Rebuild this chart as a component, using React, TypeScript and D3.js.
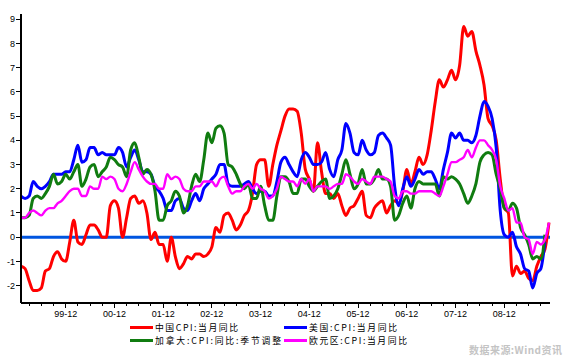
import React from "react";
import * as d3 from "d3";

// Monthly YoY CPI, Jan 1999 onward
const START_YEAR = 1999;
const china = [
  -1.2, -1.3, -1.8, -2.2, -2.2, -2.1, -1.4, -1.3, -0.8, -0.6, -0.9, -1.0,
  -0.2, 0.7, -0.2, -0.3, 0.1, 0.5, 0.5, 0.3, 0.0, 0.0, 1.3, 1.5,
  1.2, 0.0, 0.8, 1.6, 1.7, 1.4, 1.5, 1.0, -0.1, 0.2, -0.3, -0.3,
  -1.0, 0.0, -0.8, -1.3, -1.1, -0.8, -0.9, -0.7, -0.7, -0.8, -0.7, -0.4,
  0.4, 0.2, 0.9, 1.0, 0.7, 0.3, 0.5, 0.9, 1.1, 1.8, 3.0, 3.2,
  3.2, 2.1, 3.0, 3.8, 4.4, 5.0, 5.3, 5.3, 5.2, 4.3, 2.8, 2.4,
  1.9, 3.9, 2.7, 1.8, 1.8, 1.6, 1.8, 1.3, 0.9, 1.2, 1.3, 1.6,
  1.9, 0.9, 0.8, 1.2, 1.4, 1.5, 1.0, 1.3, 1.5, 1.4, 1.9, 2.8,
  2.2, 2.7, 3.3, 3.0, 3.4, 4.4, 5.6, 6.5, 6.2, 6.5, 6.9, 6.5,
  7.1, 8.7, 8.3, 8.5, 7.7, 7.1, 6.3, 4.9, 4.6, 4.0, 2.4, 1.2,
  1.0, -1.6, -1.2, -1.5, -1.4, -1.7, -1.8, -1.2, -0.8, -0.5, 0.6,
];
const usa = [
  1.7, 1.6, 1.7, 2.3, 2.1, 2.0, 2.1, 2.3, 2.6, 2.6, 2.6, 2.7,
  2.7, 3.2, 3.8, 3.1, 3.2, 3.7, 3.7, 3.4, 3.5, 3.4, 3.4, 3.4,
  3.7, 3.5, 2.9, 3.3, 3.6, 3.2, 2.7, 2.7, 2.6, 2.1, 1.9, 1.6,
  1.1, 1.1, 1.5, 1.6, 1.2, 1.1, 1.5, 1.8, 1.5, 2.0, 2.2, 2.4,
  2.6, 3.0, 3.0, 2.2, 2.1, 2.1, 2.1, 2.2, 2.3, 2.0, 1.8, 1.9,
  1.9, 1.7, 1.7, 2.3, 3.1, 3.3, 3.0, 2.7, 2.5, 3.2, 3.5, 3.3,
  3.0, 3.0, 3.1, 3.5, 2.8, 2.5, 3.2, 3.6, 4.7, 4.3, 3.5, 3.4,
  4.0, 3.6, 3.4, 3.5, 4.2, 4.3, 4.1, 3.8, 2.1, 1.3, 2.0, 2.5,
  2.1, 2.4, 2.8, 2.6, 2.7, 2.7, 2.4, 2.0, 2.8, 3.5, 4.3, 4.1,
  4.3, 4.0, 4.0, 3.9, 4.2, 5.0, 5.6, 5.4, 4.9, 3.7, 1.1, 0.1,
  0.0, 0.2, -0.4, -0.7, -1.3, -1.4, -2.1, -1.5, -1.3, -0.2,
];
const canada = [
  0.8, 0.8, 0.9, 1.6, 1.7, 1.6, 1.8, 2.1, 2.6, 2.2, 2.3, 2.6,
  2.4, 2.7, 3.0, 2.1, 2.4, 2.9, 3.0, 2.5, 2.7, 2.9, 3.3, 3.2,
  3.0, 2.9, 2.5, 3.6, 3.9, 3.3, 2.6, 2.8, 2.6, 1.9, 0.7, 0.7,
  1.3, 1.5, 1.9, 1.7, 1.0, 1.3, 2.1, 2.6, 2.3, 3.2, 4.3, 3.9,
  4.5, 4.6, 4.3, 3.0, 2.9, 2.6, 2.2, 2.0, 2.2, 1.6, 1.6, 2.1,
  1.3, 0.7, 0.7, 1.7, 2.5, 2.5, 2.3, 1.8, 1.8, 2.4, 2.4, 2.1,
  1.9, 2.1, 2.3, 2.4, 1.6, 1.7, 2.0, 2.6, 3.2, 2.6, 2.0, 2.2,
  2.8, 2.2, 2.2, 2.4, 2.8, 2.4, 2.4, 2.1, 0.7, 0.9, 1.4, 1.7,
  1.2, 2.0, 2.3, 2.2, 2.2, 2.2, 2.2, 1.7, 2.5, 2.4, 2.5, 2.4,
  2.2, 1.8, 1.4, 1.7, 2.2, 3.1, 3.4, 3.5, 3.4, 2.6, 2.0, 1.2,
  1.1, 1.4, 1.2, 0.4, 0.1, -0.3, -0.9, -0.8, -0.9, 0.1,
];
const euro = [
  0.8, 0.8, 1.0, 1.1, 1.0, 0.9, 1.1, 1.2, 1.2, 1.4, 1.5, 1.7,
  1.9, 2.0, 2.0, 1.7, 1.7, 2.1, 2.0, 2.0, 2.5, 2.4, 2.5, 2.4,
  2.0, 1.9, 2.2, 2.7, 3.1, 2.8, 2.5, 2.3, 2.2, 2.2, 2.0, 2.0,
  2.6, 2.4, 2.5, 2.4, 2.0, 1.9, 1.9, 2.1, 2.1, 2.3, 2.3, 2.3,
  2.1, 2.4, 2.5, 2.1, 1.8, 1.9, 1.9, 2.1, 2.2, 2.0, 2.2, 2.0,
  1.9, 1.6, 1.7, 2.0, 2.5, 2.4, 2.3, 2.3, 2.1, 2.4, 2.2, 2.4,
  1.9, 2.1, 2.1, 2.1, 2.0, 2.1, 2.2, 2.2, 2.6, 2.5, 2.3, 2.2,
  2.4, 2.3, 2.2, 2.5, 2.5, 2.5, 2.4, 2.3, 1.7, 1.6, 1.9, 1.9,
  1.8, 1.8, 1.9, 1.9, 1.9, 1.9, 1.8, 1.7, 2.1, 2.6, 3.1, 3.1,
  3.2, 3.3, 3.6, 3.3, 3.7, 4.0, 4.0, 3.8, 3.6, 3.2, 2.1, 1.6,
  1.1, 1.2, 0.6, 0.6, 0.0, -0.1, -0.7, -0.2, -0.3, -0.1, 0.6,
];

const seriesNames = [
  "中国CPI:当月同比",
  "美国:CPI:当月同比",
  "加拿大:CPI:同比:季节调整",
  "欧元区:CPI:当月同比",
];
const seriesColors = ["#ff0000", "#0000ff", "#107c10", "#ff00ff"];
const seriesWidths = [3, 3, 3, 2.4];
const seriesData = [china, usa, canada, euro];
const yTicks = [-2, -1, 0, 1, 2, 3, 4, 5, 6, 7, 8, 9];
const watermark = "数据来源:Wind资讯";

const W = 570;
const H = 357;
const LEFT = 21;
const RIGHT = 550;
const TOP = 14;
const BOTTOM = 303;

export default function App() {
  const x = d3.scaleLinear().domain([0, 130.25]).range([LEFT, RIGHT]);
  const y = d3.scaleLinear().domain([-2.72, 9.22]).range([BOTTOM, TOP]);
  const line = d3
    .line<number>()
    .x((_, i) => x(i))
    .y((d) => y(d))
    .curve(d3.curveMonotoneX);

  const xTickIdx = d3.range(2, 131, 3);
  const label = (i: number) => {
    const yr = START_YEAR + Math.floor(i / 12);
    const m = (i % 12) + 1;
    return `${String(yr % 100).padStart(2, "0")}-${String(m).padStart(2, "0")}`;
  };
  const tickFont = "'Liberation Sans', Arial, sans-serif";
  const cjkFont = "'Noto Sans CJK SC', sans-serif";

  const legendPos = [
    { x: 130, y: 327.5, w: 83 },
    { x: 284, y: 327.5, w: 88 },
    { x: 130, y: 340.5, w: 126 },
    { x: 284, y: 340.5, w: 98 },
  ];

  return (
    <svg
      width={W}
      height={H}
      style={{ position: "absolute", left: 0, top: 0, background: "#fff" }}
    >
      <rect x={0} y={0} width={W} height={H} fill="#fff" />
      {/* zero line */}
      <line
        x1={LEFT}
        x2={RIGHT}
        y1={y(0)}
        y2={y(0)}
        stroke="#0055e0"
        strokeWidth={3}
      />
      {seriesData.map((d, k) => (
        <path
          key={k}
          d={line(d) || ""}
          fill="none"
          stroke={seriesColors[k]}
          strokeWidth={seriesWidths[k]}
          strokeLinejoin="round"
        />
      ))}
      {/* axes */}
      <line x1={LEFT} x2={LEFT} y1={TOP} y2={BOTTOM} stroke="#000" strokeWidth={1.5} shapeRendering="crispEdges" />
      <line x1={LEFT} x2={RIGHT} y1={BOTTOM} y2={BOTTOM} stroke="#000" strokeWidth={1.5} shapeRendering="crispEdges" />
      {yTicks.map((t) => (
        <g key={t}>
          <line x1={LEFT - 5} x2={LEFT} y1={y(t)} y2={y(t)} stroke="#000" strokeWidth={1} shapeRendering="crispEdges" />
          <text
            x={LEFT - 6}
            y={y(t)}
            dy="0.35em"
            textAnchor="end"
            fontFamily={tickFont}
            fontSize={9}
            fill="#000"
          >
            {t}
          </text>
        </g>
      ))}
      {xTickIdx.map((i) => {
        const major = i % 12 === 11;
        return (
          <g key={i}>
            <line
              x1={x(i)}
              x2={x(i)}
              y1={BOTTOM}
              y2={BOTTOM + (major ? 5 : 3)}
              stroke="#000"
              strokeWidth={1}
              shapeRendering="crispEdges"
            />
            {major && (
              <text
                x={x(i)}
                y={317}
                textAnchor="middle"
                fontFamily={tickFont}
                fontSize={9}
                fill="#000"
              >
                {label(i)}
              </text>
            )}
          </g>
        );
      })}
      {/* legend */}
      {seriesNames.map((n, k) => (
        <g key={n}>
          <line
            x1={legendPos[k].x}
            x2={legendPos[k].x + 23}
            y1={legendPos[k].y}
            y2={legendPos[k].y}
            stroke={seriesColors[k]}
            strokeWidth={3}
          />
          <text
            x={legendPos[k].x + 25}
            y={legendPos[k].y}
            dy="0.36em"
            fontFamily={cjkFont}
            fontSize={8.8}
            textLength={legendPos[k].w}
            lengthAdjust="spacing"
            fill="#000"
          >
            {n}
          </text>
        </g>
      ))}
      <text
        x={469}
        y={350}
        dy="0.35em"
        fontFamily={cjkFont}
        fontSize={10}
        fontWeight="bold"
        textLength={93}
        lengthAdjust="spacing"
        fill="#c4c4c4"
      >
        {watermark}
      </text>
    </svg>
  );
}
